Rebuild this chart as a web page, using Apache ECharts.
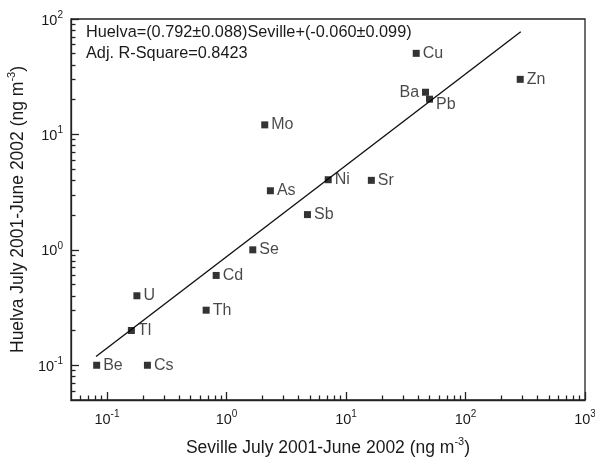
<!DOCTYPE html>
<html><head><meta charset="utf-8">
<script src="https://cdn.jsdelivr.net/npm/echarts@6/dist/echarts.min.js"></script>
<style>html,body{margin:0;padding:0;background:#fff}#c{width:595px;height:458px}</style>
</head><body><div id="c"></div>
<script>
// element names
var elements = ['Be','Cs','Tl','U','Th','Cd','Se','Sb','As','Ni','Mo','Sr','Cu','Ba','Pb','Zn'];
// Seville concentrations (x)
var seville = [0.082,0.218,0.16,0.178,0.676,0.82,1.66,4.76,2.33,7.1,2.09,16.3,38.7,46.3,50,287];
// Huelva concentrations (y)
var huelva = [0.1,0.1,0.2,0.40,0.30,0.60,1.0,2.02,3.25,4.05,12.1,4.0,50.4,23.2,20.2,30];
// fitted line end points
var fitX = [0.081, 290];
var fitY = [0.119, 77.6];
var majorTicks = [0.1,1,10,100,1000];
var minorTicksX = [0.06,0.07,0.08,0.09,2e-1,3e-1,4e-1,5e-1,6e-1,7e-1,8e-1,9e-1,2,3,4,5,6,7,8,9,20,30,40,50,60,70,80,90,200,300,400,500,600,700,800,900];
var minorTicksY = [0.06,0.07,0.08,0.09,2e-1,3e-1,4e-1,5e-1,6e-1,7e-1,8e-1,9e-1,2,3,4,5,6,7,8,9,20,30,40,50,60,70,80,90];
var eqText = 'Huelva=(0.792\u00b10.088)Seville+(-0.060\u00b10.099)';
var r2Text = 'Adj. R-Square=0.8423';

var FONT = 'Liberation Sans, Arial, sans-serif';
var TXT = '#1a1a1a';
function powLabel(v){
  var e = Math.round(Math.log10(v));
  if (Math.abs(Math.log10(v) - e) > 1e-6) return '';
  return '{b|10}{s|' + e + '}';
}
var labRich = {
  b:{fontSize:14.5, fontFamily:FONT, color:TXT, lineHeight:18, verticalAlign:'bottom'},
  s:{fontSize:10, fontFamily:FONT, color:TXT, lineHeight:18, verticalAlign:'top', padding:[0,0,7,0]}
};
var nameRich = {
  a:{fontSize:17.5, fontFamily:FONT, color:TXT, lineHeight:21, verticalAlign:'bottom'},
  s:{fontSize:11, fontFamily:FONT, color:TXT, lineHeight:21, verticalAlign:'top', padding:[0,0,9,0]}
};
var pts = elements.map(function(n,i){
  var o = {value:[seville[i], huelva[i]], name:n};
  if (n === 'Ba') o.label = {position:'left'};
  if (n === 'Pb') o.label = {position:'right', offset:[0,5]};
  return o;
});
var chart = echarts.init(document.getElementById('c'), null, {renderer:'canvas'});
var axLine = {show:true, lineStyle:{color:'#222', width:1.3}};
chart.setOption({
  animation:false,
  grid:{left:71, right:10, top:19, bottom:58, show:true, borderColor:'#222', borderWidth:1.3, backgroundColor:'transparent', containLabel:false, outerBoundsMode:'none'},
  xAxis:[{
    type:'log', logBase:10, min:0.05, max:1000, position:'bottom',
    name:'{a|Seville July 2001-June 2002 (ng m}{s|-3}{a|)}', nameLocation:'middle', nameGap:36,
    nameTextStyle:{rich:nameRich},
    axisLine:axLine,
    axisTick:{show:true, inside:true, length:8, customValues:majorTicks, lineStyle:{color:'#222', width:1.3}},
    axisLabel:{show:true, customValues:majorTicks, formatter:powLabel, rich:labRich, margin:9},
    splitLine:{show:false}, minorTick:{show:false}
  },{
    type:'log', logBase:10, min:0.05, max:1000, position:'bottom',
    axisLine:{show:false},
    axisTick:{show:true, inside:true, length:4.5, customValues:minorTicksX, lineStyle:{color:'#222', width:1.3}},
    axisLabel:{show:false}, splitLine:{show:false}
  }],
  yAxis:[{
    type:'log', logBase:10, min:0.05, max:100, position:'left',
    name:'{a|Huelva July 2001-June 2002 (ng m}{s|-3}{a|)}', nameLocation:'middle', nameGap:40, nameRotate:90,
    nameTextStyle:{rich:nameRich},
    axisLine:axLine,
    axisTick:{show:true, inside:true, length:8, customValues:majorTicks.slice(0,4), lineStyle:{color:'#222', width:1.3}},
    axisLabel:{show:true, customValues:majorTicks.slice(0,4), formatter:powLabel, rich:labRich, margin:8},
    splitLine:{show:false}
  },{
    type:'log', logBase:10, min:0.05, max:100, position:'left',
    axisLine:{show:false},
    axisTick:{show:true, inside:true, length:4.5, customValues:minorTicksY, lineStyle:{color:'#222', width:1.3}},
    axisLabel:{show:false}, splitLine:{show:false}
  }],
  series:[{
    type:'line', xAxisIndex:0, yAxisIndex:0,
    data:[[fitX[0],fitY[0]],[fitX[1],fitY[1]]],
    showSymbol:false, symbol:'none', lineStyle:{color:'#111', width:1.4}, silent:true, z:2
  },{
    type:'scatter', xAxisIndex:0, yAxisIndex:0,
    data:pts, symbol:'rect', symbolSize:7, itemStyle:{color:'#000'},
    label:{show:true, position:'right', distance:3, formatter:'{b}', fontSize:16, fontFamily:FONT, color:TXT},
    z:3
  }],
  graphic:[
    {type:'text', left:86, top:25, style:{text:eqText, fontSize:16.3, fontFamily:FONT, fill:TXT}},
    {type:'text', left:86, top:46, style:{text:r2Text, fontSize:16.3, fontFamily:FONT, fill:TXT}}
  ]
});
</script></body></html>
